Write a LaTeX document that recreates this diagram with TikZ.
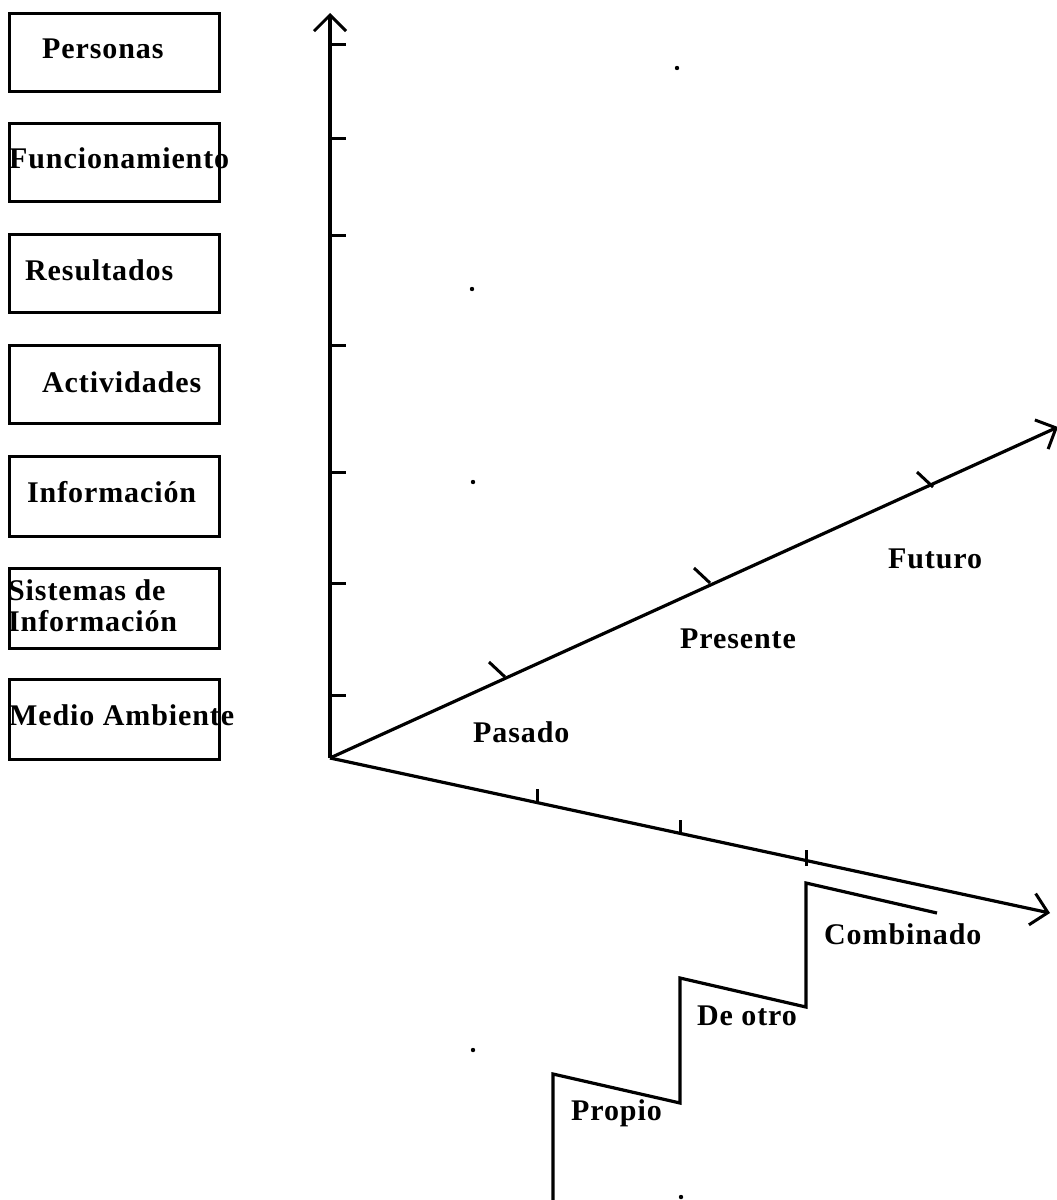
\documentclass[tikz,border=0pt]{standalone}
\usepackage{fontspec}
\setmainfont{Liberation Serif}[LetterSpace=3]
\usetikzlibrary{arrows.meta}

\begin{document}
\begin{tikzpicture}[x=1pt, y=-1pt,
  catbox/.style={draw, line width=2.9pt, minimum width=210pt, minimum height=78pt,
                 inner sep=0pt, anchor=north west},
  lbl/.style={anchor=base west, inner sep=0pt, font=\fontsize{30}{31}\selectfont\bfseries},
  axisline/.style={line width=3.2pt, -{Straight Barb[length=16pt,width=32pt,line width=3pt]}},
  tickmark/.style={line width=3pt},
  stair/.style={line width=3.2pt, line join=miter},
  speck/.style={fill=black, draw=none}]
\useasboundingbox (0,0) rectangle (1057,1200);

% category boxes on the left
\node[catbox] (b1) at (8,12)  {};
\node[catbox] (b2) at (8,122) {};
\node[catbox] (b3) at (8,233) {};
\node[catbox] (b4) at (8,344) {};
\node[catbox, minimum height=80pt] (b5) at (8,455) {};
\node[catbox, minimum height=80pt] (b6) at (8,567) {};
\node[catbox, minimum height=80pt] (b7) at (8,678) {};

\node[lbl] (l1)  at (42,58)  {Personas};
\node[lbl] (l2)  at (9,168)  {Funcionamiento};
\node[lbl] (l3)  at (25,280) {Resultados};
\node[lbl] (l4)  at (42,392) {Actividades};
\node[lbl] (l5)  at (27,502) {Información};
\node[lbl] (l6a) at (8,600)  {Sistemas de};
\node[lbl] (l6b) at (8,631)  {Información};
\node[lbl] (l7)  at (9,725)  {Medio Ambiente};

% three axes from a common origin
\coordinate (O)    at (330,758);
\coordinate (Ytip) at (330,13);
\coordinate (Ttip) at (1058,427);
\coordinate (Xtip) at (1050,913);
\draw[axisline] (O) -- (Ytip);
\draw[axisline] (O) -- (Ttip);
\draw[axisline] (O) -- (Xtip);

% ticks on the vertical axis
\foreach \yy in {44,138,235,345,472,583,695}
  \draw[tickmark] (330,\yy) -- (346,\yy);
% ticks on the time axis
\foreach \xx/\yy in {505/677,710/583,933/487}
  \draw[tickmark] (\xx,\yy) -- ++(-16,-15);
% ticks on the lower axis
\draw[tickmark] (537,803) -- (537,789);
\draw[tickmark] (680,834) -- (680,820);
\draw[tickmark] (806,866) -- (806,850);

% time labels
\node[lbl] (pasado)   at (473,742) {Pasado};
\node[lbl] (presente) at (680,648) {Presente};
\node[lbl] (futuro)   at (888,568) {Futuro};

% staircase of origins
\draw[stair] (553,1200) -- (553,1074) -- (680,1103) -- (680,978)
             -- (806,1007) -- (806,883) -- (937,913);
\node[lbl] (propio)    at (571,1120) {Propio};
\node[lbl] (deotro)    at (697,1025) {De otro};
\node[lbl] (combinado) at (824,944)  {Combinado};

% small dots
\foreach \xx/\yy in {677/68,472/289,473/482,473/1050,681/1197}
  \fill[speck] (\xx,\yy) circle (2.2pt);
\end{tikzpicture}
\end{document}
